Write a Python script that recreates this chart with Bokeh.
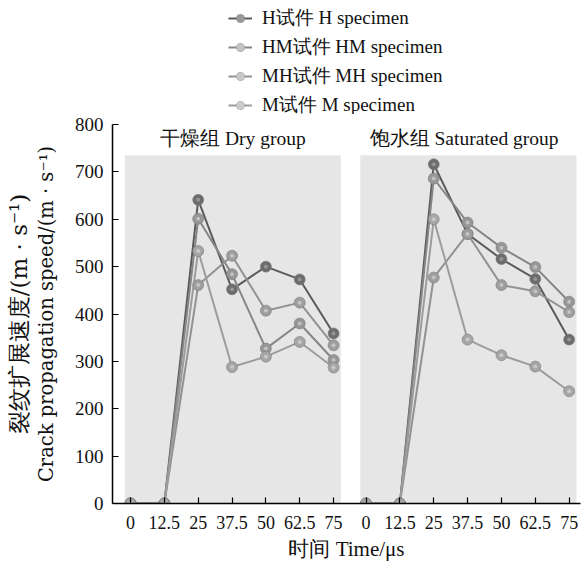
from bokeh.plotting import figure
from bokeh.layouts import column
from bokeh.models import FixedTicker, Legend, LegendItem, ColumnDataSource, LinearAxis
from bokeh.core.properties import value
from bokeh.embed import file_html
from bokeh.resources import INLINE

# ---- data ----
times = [0, 12.5, 25, 37.5, 50, 62.5, 75]
time_labels = ["0", "12.5", "25", "37.5", "50", "62.5", "75"]
y_ticks = [0, 100, 200, 300, 400, 500, 600, 700, 800]

groups = ["干燥组 Dry group", "饱水组 Saturated group"]
series_names = ["H试件 H specimen", "HM试件 HM specimen", "MH试件 MH specimen", "M试件 M specimen"]

dry_H = [0, 0, 641, 452, 500, 473, 359]
dry_HM = [0, 0, 601, 484, 327, 380, 303]
dry_MH = [0, 0, 461, 523, 407, 424, 334]
dry_M = [0, 0, 533, 288, 310, 341, 287]

sat_H = [0, 0, 716, 569, 516, 474, 346]
sat_HM = [0, 0, 686, 593, 540, 499, 426]
sat_MH = [0, 0, 477, 569, 461, 448, 404]
sat_M = [0, 0, 600, 346, 313, 289, 237]

dry = [dry_H, dry_HM, dry_MH, dry_M]
sat = [sat_H, sat_HM, sat_MH, sat_M]

# ---- style ----
OFFSET = 87.0  # horizontal shift of the second panel (data units)
line_colors = ["#5a5a5a", "#868686", "#929292", "#9c9c9c"]
ball_colors = ["#6c6c6c", "#979797", "#9e9e9e", "#a6a6a6"]
hi_colors = ["#9a9a9a", "#c4c4c4", "#c8c8c8", "#cccccc"]
FONT = "Liberation Serif"
WIDE = "DejaVu Serif"
LEG_H = 114

# ---- main chart ----
p = figure(width=581, height=563 - LEG_H, x_range=(-6.65, 166.2), y_range=(0, 800),
           output_backend="svg", toolbar_location=None,
           min_border_left=112, min_border_right=1, min_border_bottom=60, min_border_top=10)
p.background_fill_color = "white"
p.outline_line_color = None
p.xgrid.visible = False
p.ygrid.visible = False

p.quad(left=[-2.1, -2.1 + OFFSET], right=[77.7, 77.7 + OFFSET], bottom=[0, 0], top=[735, 735],
       fill_color="#e6e6e6", line_color=None)

p.text(x=[37.8, 36.2 + OFFSET], y=[770, 770], text=groups, text_align="center",
       text_baseline="middle", text_font=value(FONT), text_font_size="19.5px", text_color="#111111")

for i, name in enumerate(series_names):
    src_d = ColumnDataSource(dict(x=times, y=dry[i]))
    src_s = ColumnDataSource(dict(x=[t + OFFSET for t in times], y=sat[i]))
    for src in (src_d, src_s):
        p.line("x", "y", source=src, line_color=line_colors[i], line_width=2)
for i, name in enumerate(series_names):
    src = ColumnDataSource(dict(x=times + [t + OFFSET for t in times], y=dry[i] + sat[i]))
    p.scatter("x", "y", source=src, size=11, fill_color=ball_colors[i], line_color="#7a7a7a",
              line_width=0.6)
    p.scatter("x", "y", source=src, size=4, fill_color=hi_colors[i], line_color=None, fill_alpha=0.9)

ticks = times + [t + OFFSET for t in times]
p.xaxis.ticker = FixedTicker(ticks=ticks)
p.xaxis.major_label_overrides = {t: lab for t, lab in zip(ticks, time_labels + time_labels)}
p.yaxis.ticker = FixedTicker(ticks=y_ticks)
for ax in (p.xaxis[0], p.yaxis[0]):
    ax.major_tick_in = 6
    ax.major_tick_out = 0
    ax.minor_tick_line_color = None
    ax.axis_line_color = "black"
    ax.axis_line_width = 1.5
    ax.major_tick_line_color = "black"
    ax.major_tick_line_width = 1.2
    ax.major_label_text_font = FONT
    ax.major_label_text_color = "#111111"
    ax.axis_label_text_font = FONT
    ax.axis_label_text_font_style = "normal"
    ax.axis_label_text_color = "#111111"
p.xaxis.major_label_text_font_size = "18px"
p.yaxis.major_label_text_font_size = "19px"
p.xaxis.major_label_standoff = 12
p.yaxis.major_label_standoff = 9
p.xaxis.axis_label = "时间 Time/μs"
p.xaxis.axis_label_text_font_size = "21px"
p.xaxis.axis_label_standoff = 5
p.yaxis.axis_label = "Crack propagation speed/(m · s⁻¹)"
p.yaxis.axis_label_text_font = WIDE
p.yaxis.axis_label_text_font_size = "19.5px"
p.yaxis.axis_label_standoff = 14

# outer (Chinese) line of the y-axis title
ax2 = LinearAxis(ticker=FixedTicker(ticks=[]), axis_line_color=None, major_tick_line_color=None,
                 minor_tick_line_color=None, axis_label="裂纹扩展速度/(m · s⁻¹)",
                 axis_label_text_font=WIDE, axis_label_text_font_size="23px",
                 axis_label_text_font_style="normal", axis_label_text_color="#111111",
                 axis_label_standoff=0)
p.add_layout(ax2, "left")

# ---- legend strip ----
lf = figure(width=581, height=LEG_H, x_range=(0, 1), y_range=(0, 1), output_backend="svg",
            toolbar_location=None, min_border=0)
lf.axis.visible = False
lf.xgrid.visible = False
lf.ygrid.visible = False
lf.outline_line_color = None
legend_items = []
for i, name in enumerate(series_names):
    lr = lf.line(x=[-5, -4], y=[-5, -4], line_color=line_colors[i], line_width=2)
    b = lf.scatter(x=[-5], y=[-5], size=9, fill_color=ball_colors[i], line_color="#7a7a7a", line_width=0.6)
    h = lf.scatter(x=[-5], y=[-5], size=3.5, fill_color=hi_colors[i], line_color=None)
    legend_items.append(LegendItem(label=name, renderers=[lr, b, h]))
legend = Legend(items=legend_items, location=(116, -4))
legend.label_text_font = FONT
legend.label_text_font_size = "19px"
legend.label_text_color = "#111111"
legend.glyph_width = 24
legend.glyph_height = 20
legend.label_height = 20
legend.spacing = 3
legend.padding = 0
legend.margin = 0
legend.label_standoff = 10
legend.border_line_color = None
legend.background_fill_alpha = 0
lf.add_layout(legend)

layout = column(lf, p, spacing=0)
open("out.html", "w").write(file_html(layout, INLINE))
